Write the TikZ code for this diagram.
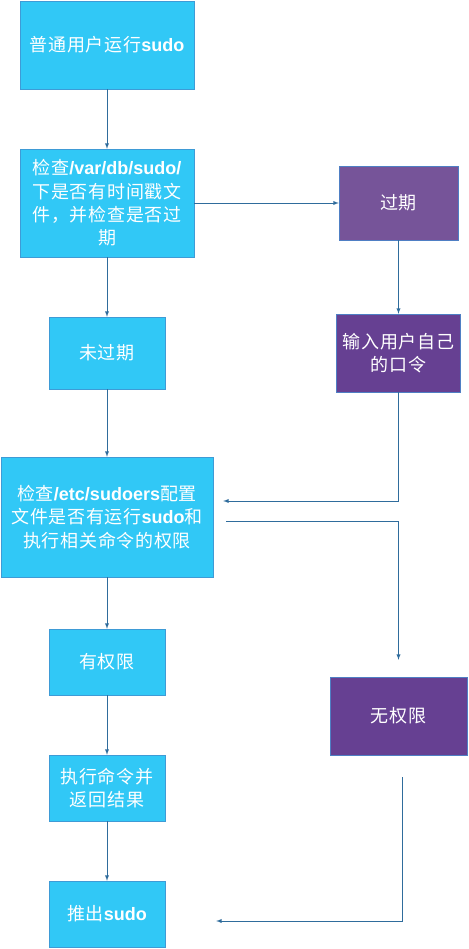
\documentclass[tikz,border=0pt]{standalone}
\usepackage{fontspec}
\setmainfont{Noto Sans CJK SC}[LetterSpace=4]
\newfontfamily\latinfont{Liberation Sans}
\newcommand{\en}[1]{{\latinfont\bfseries #1}}
\usetikzlibrary{arrows, positioning, calc}
\definecolor{boxblue}{HTML}{31C8F6}
\definecolor{boxedge}{HTML}{3E9BD6}
\definecolor{violetA}{HTML}{765499}
\definecolor{violetB}{HTML}{664092}
\definecolor{violetedge}{HTML}{4F7FC4}
\definecolor{arrowblue}{HTML}{2F6C9C}

\begin{document}
\begin{tikzpicture}[x=1pt, y=1pt]
	\tikzstyle{proc}=[rectangle, fill=boxblue, draw=boxedge, text=white, align=center, inner sep=0pt, font=\fontsize{18pt}{23.3pt}\selectfont]
	\tikzstyle{alt}=[proc, fill=violetB, draw=violetedge]
	\tikzstyle{small}=[minimum width=116pt, minimum height=66pt]
	\tikzstyle{connect}=[-latex, draw=arrowblue, line width=0.9pt]
	\useasboundingbox (0,0) rectangle (468,-949);
	\node[proc, minimum width=174pt, minimum height=88pt] (run) at (107,-45) {普通用户运行\en{sudo}};
	\node[proc, minimum width=174pt, minimum height=108pt, node distance=158pt] (check) [below of=run] {检查\en{/var/db/sudo/}\\下是否有时间戳文\\件，并检查是否过\\期};
	\node[proc, small, minimum height=72pt, node distance=150pt] (valid) [below of=check] {未过期};
	\node[proc, minimum width=212pt, minimum height=120pt, node distance=164pt] (sudoers) [below of=valid] {检查\en{/etc/sudoers}配置\\文件是否有运行\en{sudo}和\\执行相关命令的权限};
	\node[proc, small, node distance=145pt] (allowed) [below of=sudoers] {有权限};
	\node[proc, small, node distance=126pt] (exec) [below of=allowed] {执行命令并\\返回结果};
	\node[proc, small, node distance=126pt] (quit) [below of=exec] {推出\en{sudo}};
	\node[alt, fill=violetA, minimum width=119pt, minimum height=74pt, node distance=291.5pt] (expired) [right of=check] {过期};
	\node[alt, minimum width=124pt, minimum height=78pt, node distance=150pt] (passwd) [below of=expired] {输入用户自己\\的口令};
	\node[alt, minimum width=137pt, minimum height=78pt, node distance=363pt] (denied) [below of=passwd] {无权限};
	\coordinate (in-s) at ($(sudoers.east)+(10,16)$);
	\coordinate (out-s) at ($(sudoers.east)+(13,-4)$);
	\coordinate (top-d) at ($(denied.north)+(0,17)$);
	\coordinate (bot-d) at ($(denied.south)+(3.5,-22)$);
	\coordinate (in-q) at ($(quit.east)+(51,-7)$);
	\path (run) edge [connect] (check)
	(check) edge [connect] (valid)
	(check) edge [connect] (expired)
	(expired) edge [connect] (passwd)
	(valid) edge [connect] (sudoers)
	(sudoers) edge [connect] (allowed)
	(allowed) edge [connect] (exec)
	(exec) edge [connect] (quit);
	\draw[connect] (passwd.south) |- (in-s);
	\draw[connect] (out-s) -| (top-d);
	\draw[connect] (bot-d) |- (in-q);
\end{tikzpicture}
\end{document}
